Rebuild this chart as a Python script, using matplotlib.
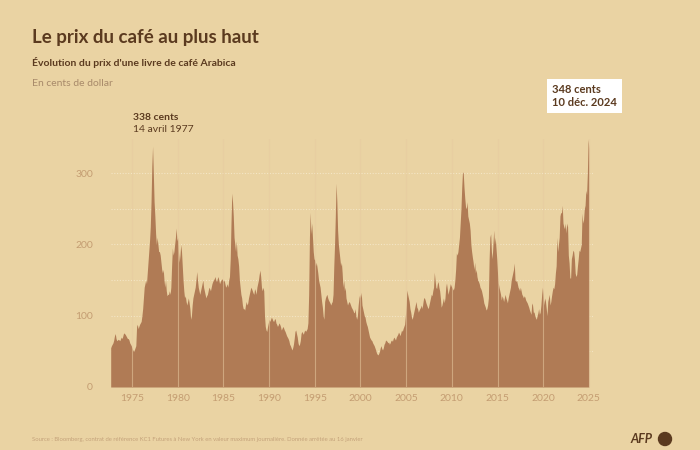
import matplotlib
matplotlib.use("Agg")
import matplotlib.pyplot as plt
import numpy as np
from matplotlib.patches import Circle

# ---- data: monthly max price (US cents / lb), Arabica KC1 ----
start_year = 1972
start_month = 9
prices = [
    # 1972 (Sep-Dec)
    55, 58, 60, 62,
    # 1973
    66, 72, 75, 68, 65, 66, 67, 66, 65, 68, 70, 68,
    # 1974
    72, 76, 75, 74, 72, 70, 68, 68, 66, 62, 60, 58,
    # 1975
    55, 52, 50, 52, 55, 58, 85, 88, 82, 85, 88, 90,
    # 1976
    92, 100, 110, 125, 140, 145, 150, 145, 160, 175, 190, 205,
    # 1977
    225, 260, 310, 338, 300, 260, 240, 215, 200, 210, 200, 190,
    # 1978
    190, 185, 175, 165, 160, 165, 150, 140, 150, 135, 128, 130,
    # 1979
    130, 135, 130, 140, 170, 195, 185, 190, 200, 210, 223, 205,
    # 1980
    210, 190, 175, 185, 200, 190, 170, 150, 135, 125, 128, 120,
    # 1981
    115, 120, 125, 118, 110, 95, 100, 115, 125, 130, 135, 140,
    # 1982
    150, 162, 150, 140, 135, 130, 135, 140, 145, 150, 140, 135,
    # 1983
    130, 125, 128, 130, 135, 140, 138, 135, 140, 145, 148, 150,
    # 1984
    152, 155, 150, 148, 152, 155, 150, 145, 148, 150, 152, 150,
    # 1985
    148, 150, 145, 140, 142, 145, 140, 150, 155, 180, 230, 272,
    # 1986
    260, 240, 210, 200, 190, 205, 185, 180, 170, 150, 140, 130,
    # 1987
    125, 115, 110, 110, 108, 115, 120, 115, 118, 125, 130, 135,
    # 1988
    140, 138, 135, 132, 130, 138, 135, 130, 140, 145, 150, 158,
    # 1989
    164, 155, 140, 135, 140, 135, 100, 85, 80, 78, 85, 90,
    # 1990
    95, 92, 95, 98, 96, 93, 92, 95, 96, 90, 88, 85,
    # 1991
    87, 90, 88, 85, 80, 82, 85, 83, 80, 78, 75, 72,
    # 1992
    70, 68, 65, 60, 58, 55, 52, 55, 60, 68, 78, 80,
    # 1993
    75, 70, 62, 58, 60, 65, 75, 78, 76, 74, 78, 80,
    # 1994
    78, 80, 82, 90, 130, 210, 245, 215, 230, 210, 190, 180,
    # 1995
    178, 170, 175, 168, 160, 150, 145, 140, 130, 120, 112, 100,
    # 1996
    95, 120, 125, 128, 130, 125, 122, 120, 118, 115, 118, 120,
    # 1997
    130, 170, 200, 240, 286, 260, 220, 200, 190, 180, 170, 175,
    # 1998
    160, 140, 150, 135, 140, 125, 120, 115, 118, 120, 118, 115,
    # 1999
    112, 110, 108, 105, 104, 110, 100, 95, 100, 115, 125, 130,
    # 2000
    125, 133, 115, 110, 105, 100, 98, 92, 88, 85, 80, 75,
    # 2001
    70, 68, 66, 65, 62, 60, 58, 55, 52, 48, 46, 45,
    # 2002
    47, 50, 55, 58, 54, 52, 55, 60, 62, 66, 65, 64,
    # 2003
    62, 63, 60, 62, 65, 66, 64, 68, 70, 68, 66, 70,
    # 2004
    72, 74, 77, 75, 72, 76, 80, 78, 82, 85, 88, 100,
    # 2005
    115, 136, 130, 125, 120, 110, 105, 98, 95, 100, 105, 110,
    # 2006
    115, 120, 112, 110, 105, 108, 110, 112, 115, 110, 118, 125,
    # 2007
    125, 122, 118, 115, 112, 110, 115, 120, 125, 130, 128, 135,
    # 2008
    140, 161, 150, 140, 138, 145, 148, 140, 135, 125, 112, 115,
    # 2009
    120, 125, 118, 125, 140, 146, 138, 130, 135, 140, 145, 142,
    # 2010
    140, 138, 136, 140, 150, 165, 188, 185, 190, 200, 210, 230,
    # 2011
    250, 280, 302, 300, 280, 265, 253, 250, 260, 240, 235, 230,
    # 2012
    220, 200, 190, 182, 175, 165, 175, 160, 165, 155, 150, 148,
    # 2013
    145, 140, 138, 135, 130, 125, 118, 115, 112, 108, 110, 115,
    # 2014
    125, 180, 210, 215, 190, 180, 200, 220, 200, 210, 195, 180,
    # 2015
    160, 146, 140, 135, 130, 122, 128, 125, 120, 125, 130, 125,
    # 2016
    122, 118, 125, 130, 135, 140, 150, 155, 160, 165, 174, 150,
    # 2017
    148, 150, 145, 140, 138, 135, 140, 135, 130, 128, 125, 128,
    # 2018
    126, 122, 120, 118, 115, 112, 108, 105, 102, 118, 115, 105,
    # 2019
    105, 100, 97, 95, 100, 104, 110, 102, 105, 115, 130, 140,
    # 2020
    130, 115, 125, 120, 110, 100, 120, 125, 130, 115, 120, 128,
    # 2021
    135, 140, 138, 145, 160, 170, 210, 190, 200, 210, 240, 245,
    # 2022
    244, 255, 230, 225, 222, 230, 216, 230, 225, 185, 174, 153,
    # 2023
    153, 180, 185, 192, 190, 180, 160, 155, 158, 170, 180, 192,
    # 2024
    190, 195, 200, 244, 230, 235, 250, 255, 276, 270, 300, 348,
    # 2025 (Jan)
    335,
]

y_ticks = [0, 100, 200, 300]
x_ticks = [1975, 1980, 1985, 1990, 1995, 2000, 2005, 2010, 2015, 2020, 2025]

title = "Le prix du café au plus haut"
subtitle = "Évolution du prix d'une livre de café Arabica"
unit = "En cents de dollar"
source = ("Source : Bloomberg, contrat de référence KC1 Futures à New York en valeur "
          "maximum journalière. Donnée arrêtée au 16 janvier")
ann1_lines = ["338 cents", "14 avril 1977"]
ann2_lines = ["348 cents", "10 déc. 2024"]

# ---- styling ----
BG = "#EAD3A3"
FILL = "#B07B55"
DARK = "#5B3A1F"
TICK = "#C49D72"
GRID = "#F4E6C6"

plt.rcParams["font.family"] = ["Lato", "DejaVu Sans"]

fig = plt.figure(figsize=(7, 4.5), dpi=100, facecolor=BG)
ax = fig.add_axes([111 / 700, 1 - 387 / 450, (593 - 111) / 700, (387 - 139) / 450])
ax.set_facecolor(BG)

t = np.array([start_year + (start_month - 1 + i) / 12 for i in range(len(prices))])
p = np.array(prices, dtype=float)

ax.fill_between(t, 0, p, color=FILL, lw=0, zorder=2)

ax.set_xlim(1972.7, 2025.45)
ax.set_ylim(0, 348)

# horizontal dotted grid (every 50) behind area
for v in range(50, 350, 50):
    ax.axhline(v, color=GRID, lw=0.8, ls=(0, (1, 1.5)), zorder=1)
# vertical grid lines on top
for xv in x_ticks:
    ax.axvline(xv, color="#E8CBA0", lw=0.8, alpha=0.55, zorder=3)

ax.set_yticks(y_ticks)
ax.set_xticks(x_ticks)
ax.tick_params(axis="both", length=0, colors=TICK, labelsize=7.5)
ax.tick_params(axis="y", pad=13)
ax.tick_params(axis="x", pad=5)
for s in ax.spines.values():
    s.set_visible(False)

# ---- texts ----
fig.text(32 / 700, 1 - 38 / 450, title, fontsize=13.5, fontweight="bold", color=DARK,
         va="center", ha="left")
fig.text(32 / 700, 1 - 62 / 450, subtitle, fontsize=7.5, fontweight="bold", color=DARK,
         va="center", ha="left")
fig.text(32 / 700, 1 - 84 / 450, unit, fontsize=7.5, color="#A88A6A",
         va="center", ha="left")

fig.text(133 / 700, 1 - 118 / 450, ann1_lines[0], fontsize=7.5, fontweight="bold",
         color=DARK, va="center", ha="left")
fig.text(133 / 700, 1 - 130 / 450, ann1_lines[1], fontsize=7.5, color=DARK,
         va="center", ha="left")

fig.text(552 / 700, 1 - 96 / 450, ann2_lines[0] + "\n" + ann2_lines[1], fontsize=8,
         fontweight="bold", color=DARK, va="center", ha="left", linespacing=1.3,
         bbox=dict(boxstyle="square,pad=0.45", fc="white", ec="none"))

fig.text(32 / 700, 1 - 440 / 450, source, fontsize=4.2, color="#C4A27A",
         va="center", ha="left")

# AFP logo
fig.text(630 / 700, 1 - 439 / 450, "AFP", fontsize=9, fontweight="bold", style="italic",
         color=DARK, va="center", ha="left")
logo = Circle((665 / 100, (450 - 439) / 100), 0.065, transform=fig.dpi_scale_trans,
              color=DARK)
fig.patches.append(logo)

fig.savefig("out.png", dpi=100, facecolor=BG)
